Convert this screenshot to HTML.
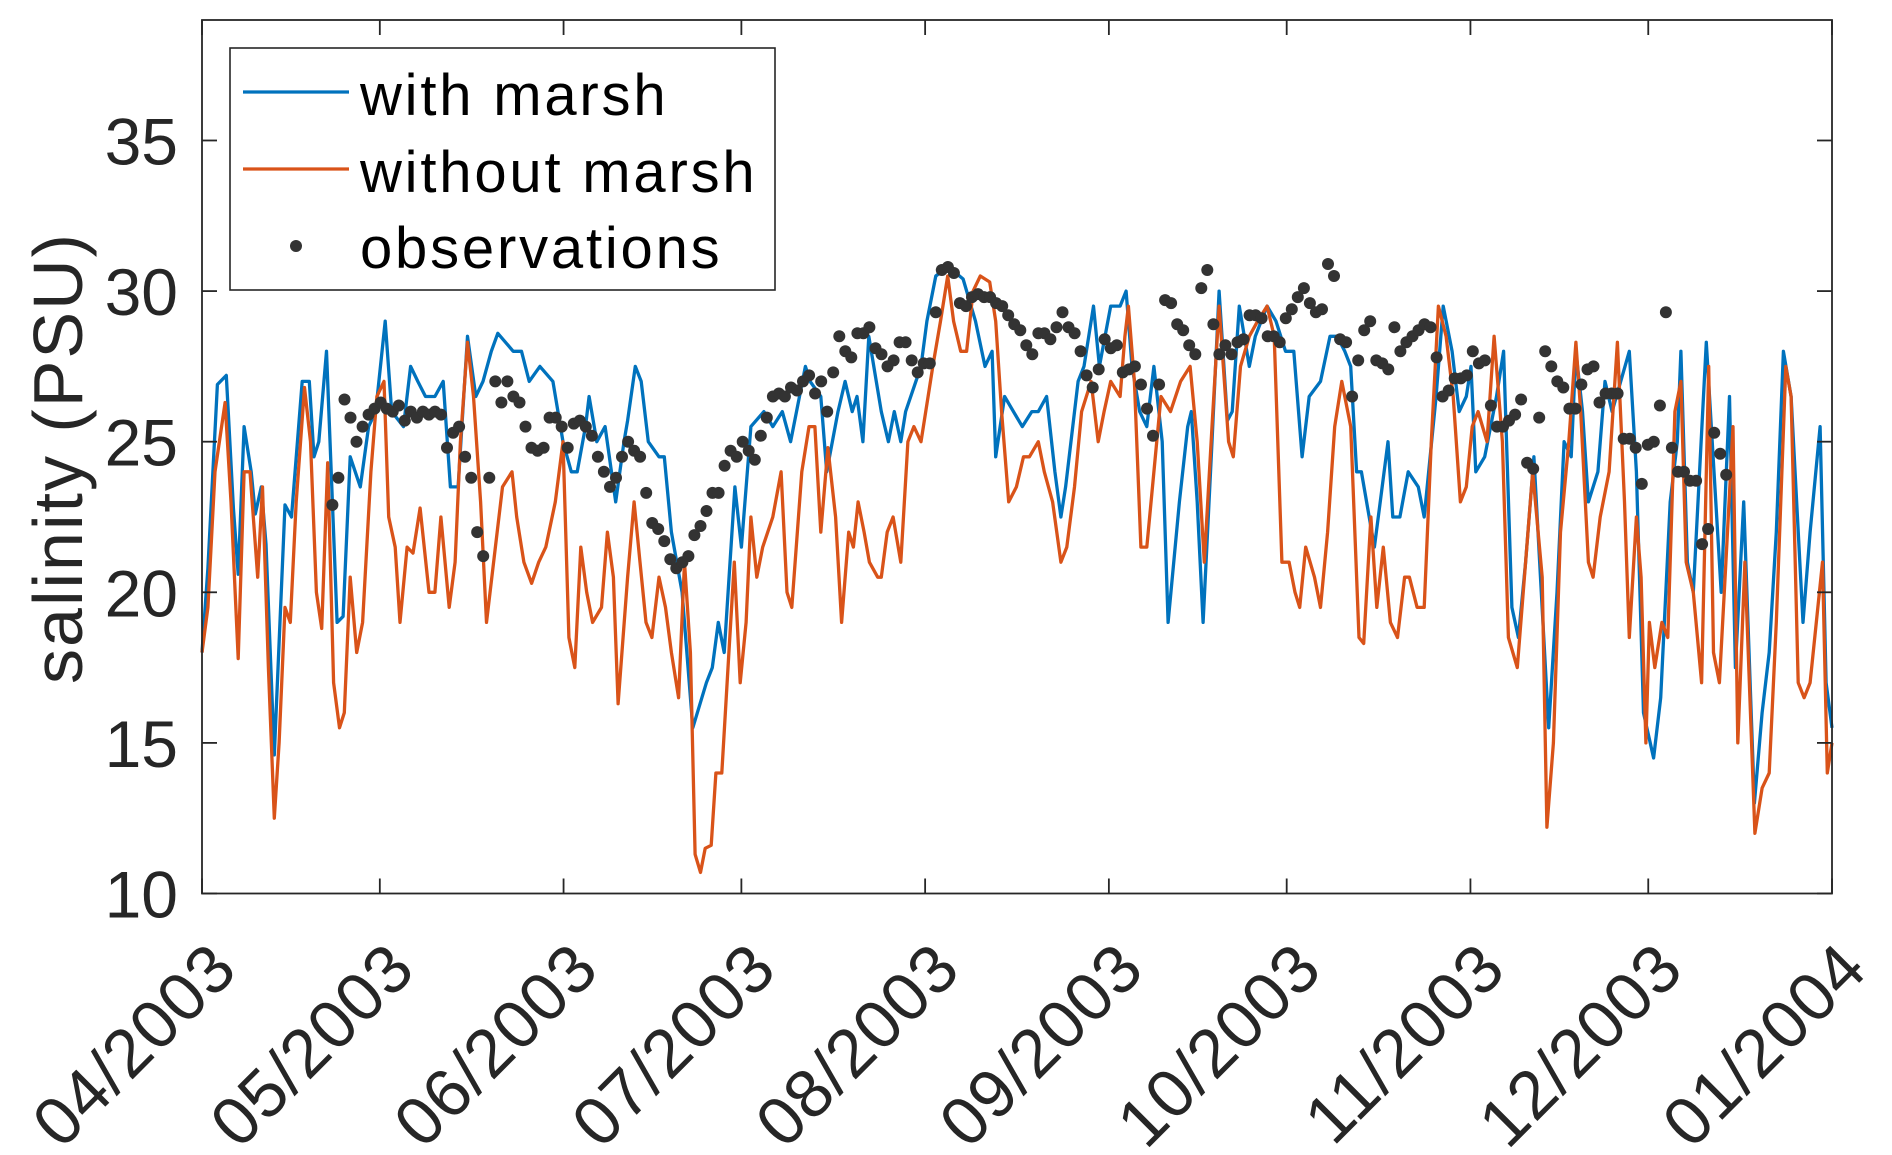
<!DOCTYPE html>
<html><head><meta charset="utf-8">
<style>
html,body{margin:0;padding:0;background:#fff;}
svg{display:block;font-family:"Liberation Sans",Arial,sans-serif;}
</style></head>
<body>
<svg id="chart" width="1892" height="1155" viewBox="0 0 1892 1155" xmlns="http://www.w3.org/2000/svg">
<rect x="0" y="0" width="1892" height="1155" fill="#fff"/>
<g id="plot"></g>
<g id="axes"></g>
<text transform="translate(82,458) rotate(-90)" text-anchor="middle" font-size="70" letter-spacing="2" fill="#262626">salinity (PSU)</text>
<g>
<rect x="230" y="48" width="545" height="242" fill="#fff" stroke="#262626" stroke-width="1.6"/>
<line x1="243" y1="92" x2="349" y2="92" stroke="#0072BD" stroke-width="3.2"/>
<text x="360" y="115" font-size="58" letter-spacing="2.8" fill="#000">with marsh</text>
<line x1="243" y1="169" x2="349" y2="169" stroke="#D95319" stroke-width="3.2"/>
<text x="360" y="192" font-size="58" letter-spacing="2.8" fill="#000">without marsh</text>
<circle cx="296" cy="246" r="6" fill="#333"/>
<text x="360" y="268" font-size="58" letter-spacing="2.8" fill="#000">observations</text>
</g>
</svg>
<script>
// x ticks (days since 2003-04-01) and labels
const xTickDays = [0,30,61,91,122,153,183,214,244,275];
const xTickLabels = ["04/2003","05/2003","06/2003","07/2003","08/2003","09/2003","10/2003","11/2003","12/2003","01/2004"];
const yTicks = [10,15,20,25,30,35];
const yTickLabels = ["10","15","20","25","30","35"];

// with marsh series
const withDays = [0,1.0,2.6,4.1,5.3,6.1,7.1,8.3,9.0,10.0,10.8,12.2,14.0,15.1,16.9,18.1,18.9,19.7,21.0,22.8,23.8,25.0,26.7,28.1,29.3,30.9,32.0,34.0,35.2,36.4,37.7,39.3,40.7,41.9,43.2,44.8,46.2,47.4,48.8,49.9,52.5,53.9,55.2,57.0,59.2,60.9,62.3,63.3,64.7,65.3,66.6,68.0,69.8,71.2,71.8,73.1,74.1,75.3,77.1,78.0,79.2,81.0,82.8,85.1,86.1,87.1,88.1,89.9,91.0,92.6,94.8,96.3,97.9,99.3,101.8,102.6,104.4,105.4,107.3,108.5,109.7,110.5,111.5,112.5,114.6,115.8,116.8,117.9,118.7,121.3,122.3,123.8,125.8,127.2,128.4,130.5,132.1,133.3,133.9,135.4,138.4,140.0,141.1,142.5,143.9,144.9,145.7,147.8,148.8,150.4,151.4,153.3,154.9,155.9,156.9,158.2,159.4,160.6,162.0,163.0,164.9,166.3,166.9,167.9,168.9,170.4,171.6,173.0,173.8,175.0,176.7,177.7,178.7,179.7,181.2,182.8,184.2,185.6,186.8,188.7,190.3,191.5,192.8,193.8,194.8,195.6,197.8,200.1,200.9,202.1,203.5,205.2,206.2,208.2,209.4,210.9,212.1,213.3,214.1,214.9,216.4,218.4,219.6,221.0,222.1,223.3,224.7,227.2,228.6,229.8,231.0,231.8,232.9,233.9,235.5,236.7,237.9,240.8,242.0,243.2,244.9,246.1,247.7,248.9,249.5,250.6,251.6,253.8,255.4,256.3,257.7,258.7,260.1,261.9,263.2,264.4,265.6,266.8,268.1,270.1,271.3,273.0,274.0,275.0];
const withVals = [18.0,20.8,26.9,27.2,22.8,20.6,25.5,24.0,22.6,23.5,21.6,14.6,22.9,22.5,27.0,27.0,24.5,25.0,28.0,19.0,19.2,24.5,23.5,25.5,26.0,29.0,26.0,25.5,27.5,27.0,26.5,26.5,27.0,23.5,23.5,28.5,26.5,27.0,28.0,28.6,28.0,28.0,27.0,27.5,27.0,25.0,24.0,24.0,25.5,26.5,25.0,25.5,23.0,25.0,25.7,27.5,27.0,25.0,24.5,24.5,22.0,20.0,15.5,17.0,17.5,19.0,18.0,23.5,21.5,25.5,26.0,25.5,26.0,25.0,27.5,27.0,26.5,24.0,26.0,27.0,26.0,26.5,25.0,28.5,26.0,25.0,26.0,25.0,26.0,27.5,29.0,30.5,30.8,30.6,30.4,29.0,27.5,28.0,24.5,26.5,25.5,26.0,26.0,26.5,24.0,22.5,23.5,27.0,27.5,29.5,27.5,29.5,29.5,30.0,27.5,26.0,25.5,27.5,25.0,19.0,23.0,25.5,26.0,23.0,19.0,25.0,30.0,25.7,26.0,29.5,27.5,28.5,29.0,29.5,29.0,28.0,28.0,24.5,26.5,27.0,28.5,28.5,28.0,27.5,24.0,24.0,21.5,25.0,22.5,22.5,24.0,23.5,22.5,26.5,29.5,28.0,26.0,26.5,27.5,24.0,24.5,26.5,28.0,19.5,18.5,21.0,24.5,15.5,20.0,25.0,24.5,28.0,26.0,23.0,24.0,27.0,26.0,28.0,24.0,16.0,14.5,16.5,23.0,25.0,28.0,21.0,20.0,28.3,23.0,20.0,26.5,17.5,23.0,13.0,16.0,18.0,22.0,28.0,26.5,19.0,22.0,25.5,17.0,15.5];

// without marsh series
const withoutDays = [0,1.0,2.2,3.9,4.9,6.1,7.1,8.1,9.4,10.2,11.2,12.2,13.0,14.0,14.9,15.9,17.3,18.3,19.3,20.2,21.2,22.2,23.2,24.0,25.0,26.1,27.1,28.5,29.5,30.7,31.5,32.6,33.4,34.6,35.6,36.8,38.3,39.3,40.3,41.7,42.7,43.6,44.8,45.8,47.0,48.0,49.5,50.7,52.3,53.1,54.3,55.6,56.8,58.0,59.6,60.9,61.9,62.9,63.9,64.9,65.9,67.4,68.4,69.4,70.2,71.8,72.9,73.9,74.9,75.9,77.1,78.2,79.2,80.4,81.4,82.4,83.2,84.1,84.9,85.9,86.7,87.7,88.9,89.8,90.8,91.8,92.6,93.6,94.6,96.3,97.7,98.7,99.5,101.2,102.4,103.4,104.4,105.6,106.9,107.9,109.1,109.9,110.7,111.7,112.6,114.0,114.6,115.6,116.6,117.9,119.1,120.1,121.3,122.5,123.3,124.6,125.8,126.8,128.0,129.0,130.1,131.3,132.9,133.9,134.9,136.1,137.4,138.6,139.6,141.1,142.1,143.5,144.9,145.9,147.2,148.4,150.0,151.2,152.2,153.3,154.9,155.7,156.3,157.3,158.4,159.4,160.6,161.8,163.4,165.1,166.7,167.9,169.1,170.4,171.6,173.2,174.0,175.2,176.7,178.1,179.7,180.9,182.2,183.4,184.4,185.2,186.2,187.7,188.7,189.9,191.1,192.3,193.8,195.2,196.0,197.2,198.2,199.3,200.5,201.7,202.9,203.7,205.0,206.2,207.4,208.6,209.9,211.1,212.3,213.3,214.3,215.3,216.8,218.0,219.4,220.4,221.9,223.3,224.5,226.1,226.9,228.0,229.2,230.6,231.8,232.6,233.9,234.7,235.9,237.4,238.8,240.0,240.8,242.0,242.8,243.6,244.2,245.1,246.3,247.3,248.5,249.5,250.4,251.6,253.0,254.2,255.0,256.0,257.1,258.3,259.1,260.3,262.0,263.2,264.4,265.6,267.2,268.1,269.3,270.3,271.3,273.4,274.2,275.0];
const withoutVals = [18,19.5,24,26.3,23,17.8,24,24,20.5,23.5,17.5,12.5,15,19.5,19,23,26.8,25,20,18.8,24.3,17,15.5,16,20.5,18,19,24,26.5,27,22.5,21.5,19,21.5,21.3,22.8,20,20,22.5,19.5,21,25,28.3,26.5,23,19,21.5,23.5,24,22.5,21,20.3,21,21.5,23,25,18.5,17.5,21.5,20,19,19.5,22,20.5,16.3,20.5,23,21,19,18.5,20.5,19.5,18,16.5,21,18,11.3,10.7,11.5,11.6,14,14,18,21,17,19,22.5,20.5,21.5,22.5,24,20,19.5,24,25.5,25.5,22,24.8,22.5,19,22,21.5,23,22,21,20.5,20.5,22,22.5,21,25,25.5,25,26.5,27.5,29,30.5,29,28,28,30,30.5,30.3,29,26,23,23.5,24.5,24.5,25,24,23,21,21.5,23.5,26,27,25,26,27,26.5,28.5,29.5,27,21.5,21.5,24,26.5,26,27,27.5,25,21,25.5,29.5,25,24.5,27.5,28.5,29,29.5,28.5,21,21,20,19.5,21.5,20.5,19.5,22,25.5,27,25.5,18.5,18.3,22.5,19.5,21.5,19,18.5,20.5,20.5,19.5,19.5,25,29.5,28.5,26.5,23,23.5,25.5,26,25,28.5,25,18.5,17.5,21,24,20.5,12.2,15,22,25,28.3,26,21,20.5,22.5,24,28.3,23,18.5,22.5,20.5,15,19,17.5,19,18.5,26,27,21,20,17,27.5,18,17,21,25.5,15,21,12,13.5,14,19,27.5,26.5,17,16.5,17,21,14,15];

// observations (roughly daily, starting day 22)
const obsStartDay = 22;
const obsStepDays = 1.018;
const obsVals = [22.9,23.8,26.4,25.8,25,25.5,25.9,26.1,26.3,26.1,26,26.2,25.7,26,25.8,26,25.9,26,25.9,24.8,25.3,25.5,24.5,23.8,22,21.2,23.8,27,26.3,27,26.5,26.3,25.5,24.8,24.7,24.8,25.8,25.8,25.5,24.8,25.6,25.7,25.5,25.2,24.5,24,23.5,23.8,24.5,25,24.7,24.5,23.3,22.3,22.1,21.7,21.1,20.8,21.0,21.2,21.9,22.2,22.7,23.3,23.3,24.2,24.7,24.5,25,24.7,24.4,25.2,25.8,26.5,26.6,26.5,26.8,26.7,27,27.2,26.6,27.0,26,27.3,28.5,28,27.8,28.6,28.6,28.8,28.1,27.9,27.5,27.7,28.3,28.3,27.7,27.3,27.6,27.6,29.3,30.7,30.8,30.6,29.6,29.5,29.8,29.9,29.8,29.8,29.6,29.5,29.2,28.9,28.7,28.2,27.9,28.6,28.6,28.4,28.8,29.3,28.8,28.6,28,27.2,26.8,27.4,28.4,28.1,28.2,27.3,27.4,27.5,26.9,26.1,25.2,26.9,29.7,29.6,28.9,28.7,28.2,27.9,30.1,30.7,28.9,27.9,28.2,27.9,28.3,28.4,29.2,29.2,29.1,28.5,28.5,28.3,29.1,29.4,29.8,30.1,29.6,29.3,29.4,30.9,30.5,28.4,28.3,26.5,27.7,28.7,29,27.7,27.6,27.4,28.8,28,28.3,28.5,28.7,28.9,28.8,27.8,26.5,26.7,27.1,27.1,27.2,28,27.6,27.7,26.2,25.5,25.5,25.7,25.9,26.4,24.3,24.1,25.8,28,27.5,27,26.8,26.1,26.1,26.9,27.4,27.5,26.3,26.6,26.6,26.6,25.1,25.1,24.8,23.6,24.9,25,26.2,29.3,24.8,24.0,24,23.7,23.7,21.6,22.1,25.3,24.6,23.9];

const NS = "http://www.w3.org/2000/svg";
const L = 202, R = 1832, T = 20, B = 893.5;
const dMin = 0, dMax = 275, vMin = 10, vMax = 39;
function xScale(d){ return L + (d - dMin) / (dMax - dMin) * (R - L); }
function yScale(v){ return B - (v - vMin) / (vMax - vMin) * (B - T); }

const plot = document.getElementById('plot');
const axes = document.getElementById('axes');

function makeLine(days, vals, color, name){
  const p = document.createElementNS(NS, 'polyline');
  p.setAttribute('points', days.map((d,i) => xScale(d).toFixed(1) + ',' + yScale(vals[i]).toFixed(1)).join(' '));
  p.setAttribute('fill', 'none');
  p.setAttribute('stroke', color);
  p.setAttribute('stroke-width', '3.3');
  p.setAttribute('stroke-linejoin', 'round');
  
  
  plot.appendChild(p);
}
makeLine(withDays, withVals, '#0072BD', 'with-marsh-line');
makeLine(withoutDays, withoutVals, '#D95319', 'without-marsh-line');

obsVals.forEach((v, i) => {
  const c = document.createElementNS(NS, 'circle');
  c.setAttribute('cx', xScale(obsStartDay + i * obsStepDays).toFixed(1));
  c.setAttribute('cy', yScale(v).toFixed(1));
  c.setAttribute('r', '6');
  c.setAttribute('fill', '#333');
  
  
  plot.appendChild(c);
});

// axis box
const box = document.createElementNS(NS, 'rect');
box.setAttribute('x', L); box.setAttribute('y', T);
box.setAttribute('width', R - L); box.setAttribute('height', B - T);
box.setAttribute('fill', 'none'); box.setAttribute('stroke', '#262626'); box.setAttribute('stroke-width', '1.8');


axes.appendChild(box);

const tl = 15;
yTicks.forEach((v, i) => {
  const y = yScale(v);
  [[L, L + tl], [R, R - tl]].forEach(([a, b]) => {
    const ln = document.createElementNS(NS, 'line');
    ln.setAttribute('x1', a); ln.setAttribute('x2', b);
    ln.setAttribute('y1', y); ln.setAttribute('y2', y);
    ln.setAttribute('stroke', '#262626'); ln.setAttribute('stroke-width', '1.8');
    
    
    axes.appendChild(ln);
  });
  const t = document.createElementNS(NS, 'text');
  t.setAttribute('x', 178); t.setAttribute('y', y + 24);
  t.setAttribute('text-anchor', 'end'); t.setAttribute('font-size', '66'); t.setAttribute('fill', '#262626');
  t.textContent = yTickLabels[i];
  
  
  axes.appendChild(t);
});

xTickDays.forEach((d, i) => {
  const x = xScale(d);
  [[B, B - tl], [T, T + tl]].forEach(([a, b]) => {
    const ln = document.createElementNS(NS, 'line');
    ln.setAttribute('x1', x); ln.setAttribute('x2', x);
    ln.setAttribute('y1', a); ln.setAttribute('y2', b);
    ln.setAttribute('stroke', '#262626'); ln.setAttribute('stroke-width', '1.8');
    
    
    axes.appendChild(ln);
  });
  const t = document.createElementNS(NS, 'text');
  t.setAttribute('transform', 'translate(' + (x + 38) + ',' + 972 + ') rotate(-45)');
  t.setAttribute('text-anchor', 'end'); t.setAttribute('font-size', '68'); t.setAttribute('letter-spacing', '1'); t.setAttribute('fill', '#262626');
  t.textContent = xTickLabels[i];
  
  
  axes.appendChild(t);
});
</script>
</body></html>
